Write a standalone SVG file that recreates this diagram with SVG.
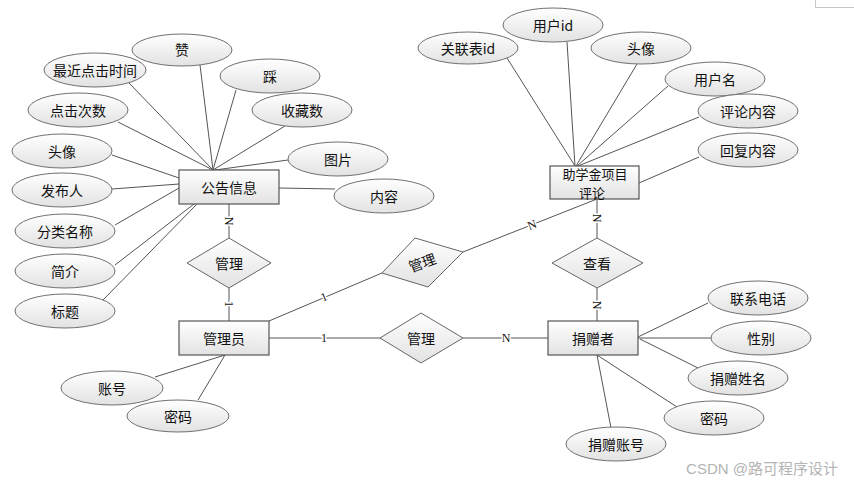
<svg xmlns="http://www.w3.org/2000/svg" width="854" height="482" viewBox="0 0 854 482">
<defs>
<linearGradient id="g" x1="0" y1="0" x2="0" y2="1">
<stop offset="0" stop-color="#ffffff"/>
<stop offset="1" stop-color="#e2e2e2"/>
</linearGradient>
<style>
.at{fill:url(#g);stroke:#707070;stroke-width:1}
.en{fill:url(#g);stroke:#555555;stroke-width:1.2}
.rl{fill:url(#g);stroke:#666666;stroke-width:1}
.t{font-family:"Noto Sans CJK SC","Liberation Sans",sans-serif;font-size:14px;fill:#111;text-anchor:middle;dominant-baseline:central}
.t2{font-family:"Noto Sans CJK SC","Liberation Sans",sans-serif;font-size:13px;fill:#111;text-anchor:middle;dominant-baseline:central}
.c line{stroke:#555555;stroke-width:1}
.lb{font-family:"Liberation Serif",serif;font-size:12px;fill:#111;text-anchor:middle;dominant-baseline:central;stroke:#fff;stroke-width:3;paint-order:stroke}
</style>
</defs>
<rect width="854" height="482" fill="#ffffff"/>
<g id="page-mark" stroke="#c8c8c8" stroke-width="1" fill="none"><polyline points="815.5,0 815.5,7.5 854,7.5"/></g>

<g class="c" id="connectors">
<!-- 公告信息 attributes -->
<line x1="200" y1="65" x2="213" y2="170"/>
<line x1="129" y1="83" x2="213" y2="170"/>
<line x1="236" y1="90" x2="213" y2="170"/>
<line x1="285" y1="126" x2="213" y2="170"/>
<line x1="118" y1="122" x2="213" y2="170"/>
<line x1="288" y1="160" x2="215" y2="170"/>
<line x1="112" y1="155" x2="179" y2="178"/>
<line x1="112" y1="189" x2="179" y2="184"/>
<line x1="115" y1="225" x2="179" y2="188"/>
<line x1="115" y1="265" x2="194" y2="204"/>
<line x1="103" y1="300" x2="197" y2="204"/>
<line x1="279" y1="188" x2="335" y2="189"/>
<!-- 助学金项目评论 attributes -->
<line x1="507" y1="58" x2="575" y2="166"/>
<line x1="567" y1="42" x2="575" y2="166"/>
<line x1="637" y1="64" x2="576" y2="166"/>
<line x1="668" y1="86" x2="577" y2="166"/>
<line x1="699" y1="117" x2="578" y2="166"/>
<line x1="699" y1="157" x2="639" y2="183"/>
<!-- 捐赠者 attributes -->
<line x1="638" y1="337" x2="708" y2="303"/>
<line x1="638" y1="338" x2="711" y2="338"/>
<line x1="640" y1="339" x2="698" y2="368"/>
<line x1="597" y1="355" x2="677" y2="407"/>
<line x1="597" y1="355" x2="611" y2="428"/>
<!-- 管理员 attributes -->
<line x1="155" y1="377" x2="225" y2="355"/>
<line x1="198" y1="400" x2="225" y2="355"/>
<!-- relationships -->
<line x1="229" y1="204" x2="229" y2="238"/>
<line x1="229" y1="288" x2="229" y2="321"/>
<line x1="597" y1="199" x2="597" y2="238"/>
<line x1="597" y1="288" x2="597" y2="321"/>
<line x1="269" y1="338" x2="380" y2="338"/>
<line x1="463" y1="338" x2="548" y2="338"/>
<line x1="269" y1="321" x2="382" y2="273"/>
<line x1="463" y1="252" x2="597" y2="199"/>
<text class="lb" transform="translate(229,221) rotate(90)">N</text>
<text class="lb" transform="translate(229,304) rotate(90)">1</text>
<text class="lb" transform="translate(597,218) rotate(90)">N</text>
<text class="lb" transform="translate(597,305) rotate(90)">N</text>
<text class="lb" x="324" y="338">1</text>
<text class="lb" x="506" y="338">N</text>
<text class="lb" transform="translate(324,297) rotate(-23)">1</text>
<text class="lb" transform="translate(532,225) rotate(-22)">N</text>
</g>

<g id="entity-gonggao"><rect class="en" x="179" y="170" width="100" height="34"/><text class="t" x="229" y="187">公告信息</text></g>
<g id="entity-guanliyuan"><rect class="en" x="179" y="321" width="90" height="34"/><text class="t" x="224" y="338">管理员</text></g>
<g id="entity-juanzengzhe"><rect class="en" x="548" y="321" width="90" height="34"/><text class="t" x="593" y="338">捐赠者</text></g>
<g id="entity-pinglun"><rect class="en" x="550" y="166" width="89" height="33"/><text class="t2" x="595" y="173">助学金项目</text><text class="t2" x="592" y="192">评论</text></g>

<g id="rel-guanli-1"><polygon class="rl" points="229,238 271,263 229,288 187,263"/><text class="t" x="229" y="263">管理</text></g>
<g id="rel-chakan"><polygon class="rl" points="597,238 643,263 597,288 552,263"/><text class="t" x="597" y="263">查看</text></g>
<g id="rel-guanli-2"><polygon class="rl" points="421,313 463,338 421,363 380,338"/><text class="t" x="421" y="338">管理</text></g>
<g id="rel-guanli-3"><polygon class="rl" points="382,273 415,238 463,252 428,287"/><text class="t" transform="translate(422,262) rotate(-20)">管理</text></g>

<g id="attr-zan"><ellipse class="at" cx="182" cy="50" rx="50" ry="16"/><text class="t" x="182" y="49">赞</text></g>
<g id="attr-zuijin"><ellipse class="at" cx="95" cy="70" rx="51" ry="17"/><text class="t" x="95" y="70">最近点击时间</text></g>
<g id="attr-cai"><ellipse class="at" cx="270" cy="76" rx="50" ry="17"/><text class="t" x="270" y="76">踩</text></g>
<g id="attr-shoucang"><ellipse class="at" cx="302" cy="110" rx="50" ry="17"/><text class="t" x="302" y="110">收藏数</text></g>
<g id="attr-dianji"><ellipse class="at" cx="78" cy="110" rx="50" ry="17"/><text class="t" x="78" y="110">点击次数</text></g>
<g id="attr-tupian"><ellipse class="at" cx="338" cy="159" rx="50" ry="17"/><text class="t" x="338" y="159">图片</text></g>
<g id="attr-touxiang1"><ellipse class="at" cx="62" cy="151" rx="50" ry="17"/><text class="t" x="62" y="151">头像</text></g>
<g id="attr-neirong"><ellipse class="at" cx="384" cy="196" rx="50" ry="17"/><text class="t" x="384" y="196">内容</text></g>
<g id="attr-faburen"><ellipse class="at" cx="62" cy="190" rx="50" ry="17"/><text class="t" x="62" y="190">发布人</text></g>
<g id="attr-fenlei"><ellipse class="at" cx="65" cy="231" rx="50" ry="17"/><text class="t" x="65" y="231">分类名称</text></g>
<g id="attr-jianjie"><ellipse class="at" cx="65" cy="271" rx="50" ry="17"/><text class="t" x="65" y="271">简介</text></g>
<g id="attr-biaoti"><ellipse class="at" cx="65" cy="311" rx="50" ry="17"/><text class="t" x="65" y="311">标题</text></g>

<g id="attr-yonghuid"><ellipse class="at" cx="553" cy="25" rx="50" ry="17"/><text class="t" x="553" y="25">用户id</text></g>
<g id="attr-guanlianbiao"><ellipse class="at" cx="468" cy="48" rx="50" ry="16"/><text class="t" x="468" y="48">关联表id</text></g>
<g id="attr-touxiang2"><ellipse class="at" cx="641" cy="48" rx="50" ry="16"/><text class="t" x="641" y="48">头像</text></g>
<g id="attr-yonghuming"><ellipse class="at" cx="715" cy="79" rx="50" ry="17"/><text class="t" x="715" y="79">用户名</text></g>
<g id="attr-pinglunneirong"><ellipse class="at" cx="748" cy="111" rx="50" ry="17"/><text class="t" x="748" y="111">评论内容</text></g>
<g id="attr-huifu"><ellipse class="at" cx="748" cy="150" rx="50" ry="17"/><text class="t" x="748" y="150">回复内容</text></g>

<g id="attr-lianxi"><ellipse class="at" cx="758" cy="298" rx="50" ry="17"/><text class="t" x="758" y="298">联系电话</text></g>
<g id="attr-xingbie"><ellipse class="at" cx="761" cy="338" rx="50" ry="17"/><text class="t" x="761" y="338">性别</text></g>
<g id="attr-xingming"><ellipse class="at" cx="738" cy="378" rx="50" ry="17"/><text class="t" x="738" y="378">捐赠姓名</text></g>
<g id="attr-mima2"><ellipse class="at" cx="714" cy="418" rx="50" ry="17"/><text class="t" x="714" y="418">密码</text></g>
<g id="attr-zhanghao2"><ellipse class="at" cx="616" cy="444" rx="50" ry="17"/><text class="t" x="616" y="444">捐赠账号</text></g>

<g id="attr-zhanghao1"><ellipse class="at" cx="112" cy="388" rx="51" ry="17"/><text class="t" x="112" y="388">账号</text></g>
<g id="attr-mima1"><ellipse class="at" cx="178" cy="416" rx="51" ry="16"/><text class="t" x="178" y="416">密码</text></g>

<text x="762" y="468" font-family="Liberation Sans,Noto Sans CJK SC,sans-serif" font-size="15" fill="#b4b4b4" text-anchor="middle" dominant-baseline="central">CSDN @路可程序设计</text>
</svg>
